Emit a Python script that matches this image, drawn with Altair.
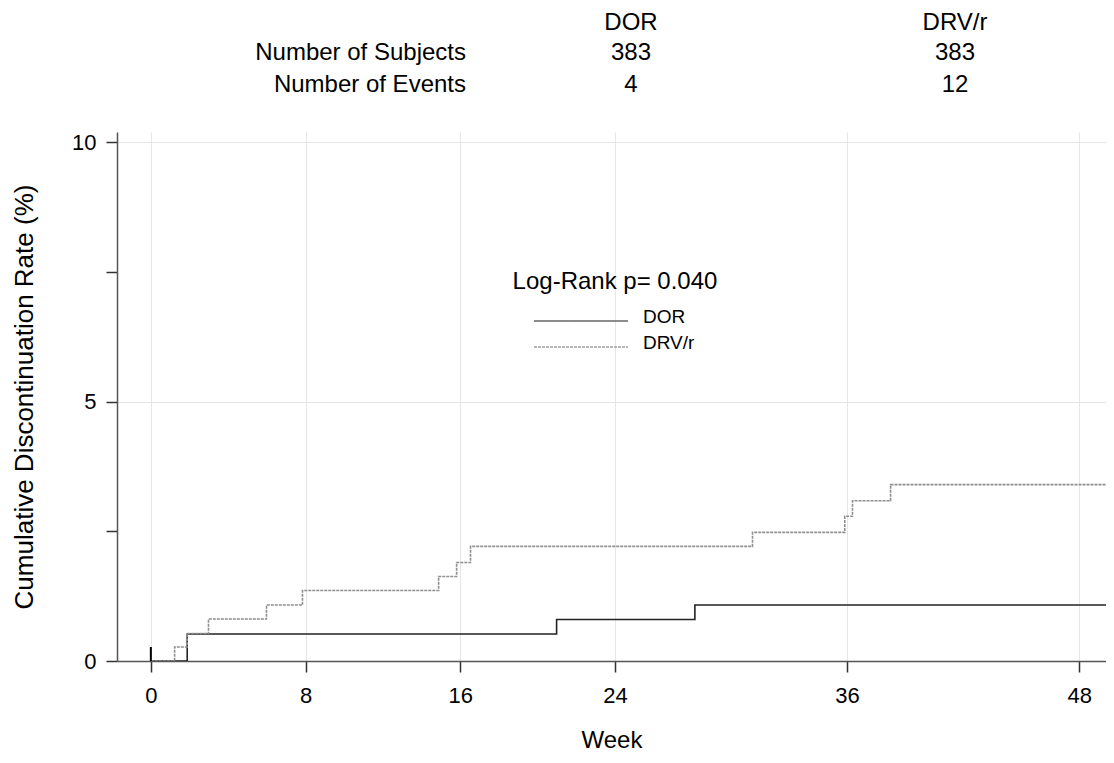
import altair as alt
import pandas as pd

# ---- data ----
groups = ["DOR", "DRV/r"]
dor_week = [0, 1.88, 20.98, 28.13, 50]
dor_rate = [0, 0.52, 0.80, 1.08, 1.08]
drv_week = [0, 1.23, 1.88, 2.98, 5.98, 7.84, 14.88, 15.81, 16.53, 31.11, 35.88, 36.28, 38.25, 50]
drv_rate = [0, 0.27, 0.53, 0.81, 1.08, 1.36, 1.63, 1.90, 2.21, 2.48, 2.79, 3.09, 3.40, 3.40]
origin_mark_top = 0.27

x_ticks = [0, 8, 16, 24, 36, 48]
y_ticks = [0, 2.5, 5, 7.5, 10]

header_cols = ["DOR", "DRV/r"]
header_rows = ["Number of Subjects", "Number of Events"]
n_subjects = [383, 383]
n_events = [4, 12]
logrank_text = "Log-Rank p= 0.040"

FONT = "Liberation Sans"

curves = pd.concat([
    pd.DataFrame({"week": dor_week, "rate": dor_rate, "group": groups[0]}),
    pd.DataFrame({"week": drv_week, "rate": drv_rate, "group": groups[1]}),
])

W, H = 989, 529
PX_PER_WEEK = 19.34
X0 = -1.75
xscale = alt.Scale(domain=[X0, X0 + W / PX_PER_WEEK], nice=False, zero=False)
yscale = alt.Scale(domain=[0, 10.2], nice=False)

color_scale = alt.Scale(domain=groups, range=["#222222", "#8f8f8f"])
dash_scale = alt.Scale(domain=groups, range=[[1, 0], [3, 1]])

lines = alt.Chart(curves).mark_line(interpolate="step-after", strokeWidth=1.6, clip=True).encode(
    x=alt.X("week:Q", scale=xscale,
            axis=alt.Axis(values=x_ticks, title="Week", grid=True)),
    y=alt.Y("rate:Q", scale=yscale,
            axis=alt.Axis(values=y_ticks, title="Cumulative Discontinuation Rate (%)", grid=True,
                          labelExpr="datum.value % 5 == 0 ? datum.label : ''",
                          gridOpacity={"condition": {"test": "datum.value % 5 != 0", "value": 0}, "value": 1})),
    color=alt.Color("group:N", scale=color_scale, legend=None),
    strokeDash=alt.StrokeDash("group:N", scale=dash_scale, legend=None),
    detail="group:N",
)

origin = alt.Chart(pd.DataFrame({"week": [0], "rate": [0], "top": [origin_mark_top]})).mark_rule(
    color="black", strokeWidth=2).encode(x="week:Q", y="rate:Q", y2="top:Q")

layers = [lines, origin]

# ---- header table ----
row_y = [-79, -47]
col_x = [514, 838]
def txt(s, x, y, align="center", size=24):
    return alt.Chart(pd.DataFrame({"t": [s]})).mark_text(
        font=FONT, fontSize=size, align=align, baseline="middle", color="black"
    ).encode(text="t:N", x=alt.value(x), y=alt.value(y))

for c, cx in zip(header_cols, col_x):
    layers.append(txt(c, cx, -109))
for r, ry in zip(header_rows, row_y):
    layers.append(txt(r, 349, ry, align="right"))
for vals, ry in zip([n_subjects, n_events], row_y):
    for v, cx in zip(vals, col_x):
        layers.append(txt(str(v), cx, ry))

# ---- legend ----
layers.append(txt(logrank_text, 498, 150))
leg_y = [189, 215]
leg_colors = ["#666666", "#a0a0a0"]
leg_dash = [[1, 0], [3, 1]]
for g, ly, lc, ld in zip(groups, leg_y, leg_colors, leg_dash):
    layers.append(alt.Chart(pd.DataFrame({"g": [g]})).mark_rule(
        color=lc, strokeWidth=1.3, strokeDash=ld).encode(
        x=alt.value(417), x2=alt.value(511), y=alt.value(ly)))
    layers.append(txt(g, 526, ly - 4, align="left", size=19))

chart = alt.layer(*layers).properties(
    width=W, height=H,
    autosize=alt.AutoSizeParams(type="none"),
    padding={"left": 109, "top": 124, "right": 0, "bottom": 98},
).configure_view(stroke=None).configure_axis(
    domainColor="#555555", domainWidth=1.5, tickColor="#333333", tickWidth=1.5, tickSize=11,
    gridColor="#e6e6e6", gridWidth=1,
    labelFont=FONT, labelFontSize=22, labelColor="black",
    titleFont=FONT, titleFontWeight="normal", titleColor="black",
).configure_axisY(titlePadding=34, titleFontSize=26, labelPadding=10).configure_axisX(
    titlePadding=22, titleFontSize=24, labelPadding=13)

chart.save("out.html", embed_options={"renderer": "svg", "actions": False})
